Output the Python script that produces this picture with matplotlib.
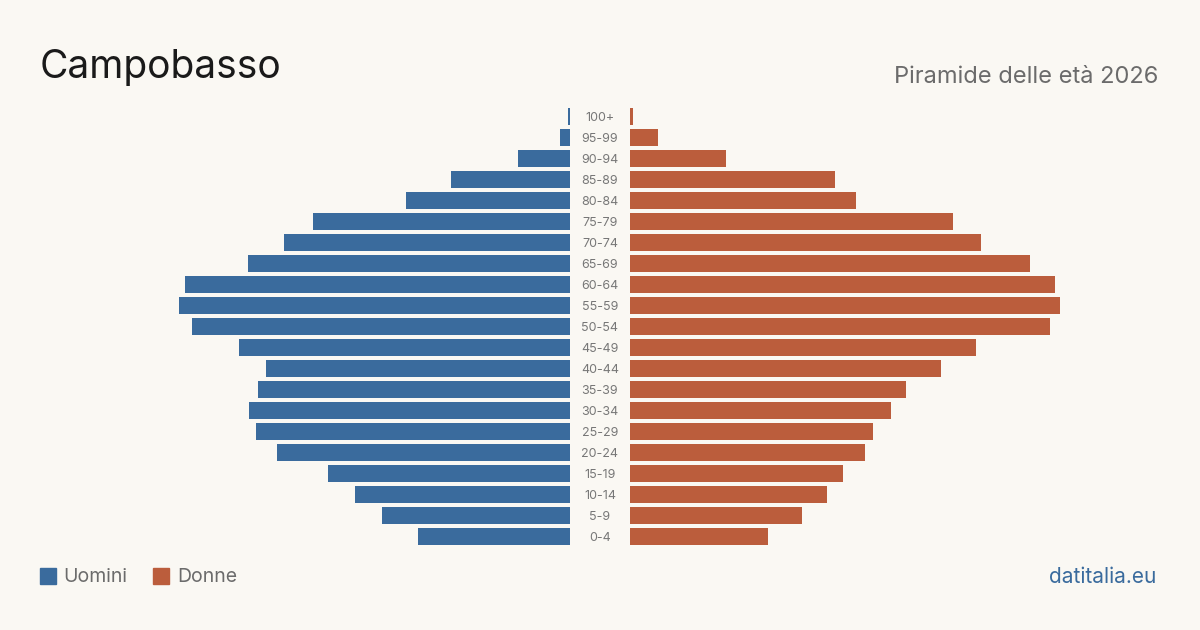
import matplotlib.pyplot as plt

plt.rcParams['font.family'] = ['Inter', 'DejaVu Sans']

# classi di età, dal basso verso l'alto
eta = ['0-4', '5-9', '10-14', '15-19', '20-24', '25-29', '30-34', '35-39',
       '40-44', '45-49', '50-54', '55-59', '60-64', '65-69', '70-74', '75-79',
       '80-84', '85-89', '90-94', '95-99', '100+']
uomini = [684, 846, 968, 1089, 1319, 1413, 1445, 1404, 1368, 1490, 1701,
          1760, 1733, 1449, 1287, 1157, 738, 536, 234, 45, 9]
donne = [621, 774, 887, 959, 1058, 1094, 1175, 1242, 1400, 1557, 1890,
         1935, 1913, 1800, 1580, 1454, 1017, 923, 432, 126, 14]

sfondo = '#faf8f3'
blu = '#3a6b9d'
arancio = '#bb5d3c'

fig = plt.figure(figsize=(12, 6.3), dpi=100, facecolor=sfondo)

y = list(range(len(eta)))
xmax = 2385

ax_u = fig.add_axes([40 / 1200, 0.131, 530 / 1200, 0.7])
ax_d = fig.add_axes([630 / 1200, 0.131, 530 / 1200, 0.7])

ax_u.barh(y, uomini, height=0.81, color=blu)
ax_d.barh(y, donne, height=0.81, color=arancio)

ax_u.set_xlim(xmax, 0)
ax_d.set_xlim(0, xmax)
for ax in (ax_u, ax_d):
    ax.set_ylim(-0.5, len(eta) - 0.5)
    ax.set_facecolor(sfondo)
    ax.set_xticks([])
    for s in ax.spines.values():
        s.set_visible(False)
ax_u.set_yticks([])

# etichette al centro
ax_d.set_yticks(y)
ax_d.set_yticklabels(eta, ha='center', fontsize=9, color='#777777')
ax_d.tick_params(axis='y', length=0, pad=21.6)

fig.text(40 / 1200, 1 - 67 / 630, 'Campobasso', fontsize=28, color='#1a1a1a',
         va='center', ha='left')
fig.text(1158 / 1200, 1 - 77 / 630, 'Piramide delle età 2026', fontsize=17,
         color='#6b6b6b', va='center', ha='right')

# legenda
fig.patches.append(plt.Rectangle((40 / 1200, 1 - 584 / 630), 16 / 1200, 16 / 630,
                                 transform=fig.transFigure, color=blu))
fig.text(63 / 1200, 1 - 577 / 630, 'Uomini', fontsize=14, color='#6b6b6b',
         va='center', ha='left')
fig.patches.append(plt.Rectangle((153 / 1200, 1 - 584 / 630), 16 / 1200, 16 / 630,
                                 transform=fig.transFigure, color=arancio))
fig.text(177 / 1200, 1 - 577 / 630, 'Donne', fontsize=14, color='#6b6b6b',
         va='center', ha='left')

fig.text(1156 / 1200, 1 - 577 / 630, 'datitalia.eu', fontsize=15, color=blu,
         va='center', ha='right')

plt.savefig('out.png', dpi=100, facecolor=sfondo)
